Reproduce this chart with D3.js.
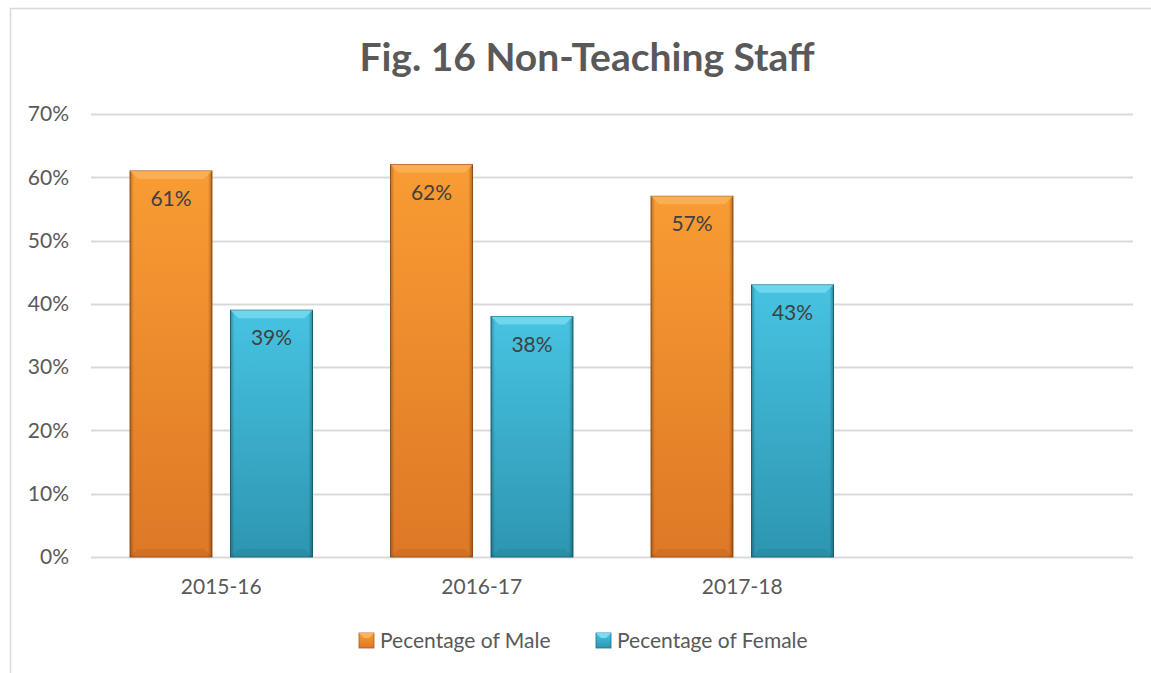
<!DOCTYPE html>
<html>
<head>
<meta charset="utf-8">
<script src="https://cdn.jsdelivr.net/npm/d3@7"></script>
<style>
  html, body { margin: 0; padding: 0; background: #fff; }
  svg { display: block; font-family: Lato, "Open Sans", sans-serif; }
</style>
</head>
<body>
<div id="target"></div>
<script>
// data
const categories = ["2015-16", "2016-17", "2017-18", ""]
const seriesNames = ["Pecentage of Male", "Pecentage of Female"]
const maleValues = [0.61, 0.62, 0.57, null]
const femaleValues = [0.39, 0.38, 0.43, null]
const yTicks = [0, 0.1, 0.2, 0.3, 0.4, 0.5, 0.6, 0.7]

const width = 1151, height = 673
const margin = { top: 114, right: 18, bottom: 116, left: 91 }
const fontSize = 21

const svg = d3.select("#target").append("svg")
    .attr("width", width)
    .attr("height", height)

const defs = svg.append("defs")

const palette = [
    { top: "#F99C33", bottom: "#DE7826", edge: "#A85A1C", bevel: "#FBB45E" },
    { top: "#47C3E2", bottom: "#2D96B1", edge: "#1E6F85", bevel: "#7BDDF3" }
]

palette.forEach((p, i) => {
    const g = defs.append("linearGradient")
        .attr("id", "fill" + i)
        .attr("x1", 0).attr("y1", 0).attr("x2", 0).attr("y2", 1)
    g.append("stop").attr("offset", "0%").attr("stop-color", p.top)
    g.append("stop").attr("offset", "100%").attr("stop-color", p.bottom)
})

// side shade for bevel look
const side = defs.append("linearGradient")
    .attr("id", "side")
    .attr("x1", 0).attr("y1", 0).attr("x2", 1).attr("y2", 0)
side.append("stop").attr("offset", "0%").attr("stop-color", "#000").attr("stop-opacity", 0.25)
side.append("stop").attr("offset", "5%").attr("stop-color", "#000").attr("stop-opacity", 0)
side.append("stop").attr("offset", "95%").attr("stop-color", "#000").attr("stop-opacity", 0)
side.append("stop").attr("offset", "100%").attr("stop-color", "#000").attr("stop-opacity", 0.3)

// chart frame
svg.append("rect")
    .attr("x", 10.5).attr("y", 8.5)
    .attr("width", width + 20).attr("height", height + 20)
    .attr("fill", "#fff")
    .attr("stroke", "#d9d9d9")
    .attr("stroke-width", 1.5)

// title
svg.append("text")
    .attr("x", 587)
    .attr("y", 71)
    .attr("text-anchor", "middle")
    .attr("font-size", 39)
    .attr("font-weight", "bold")
    .attr("fill", "#595959")
    .text("Fig. 16 Non-Teaching Staff")

const x0 = d3.scaleBand()
    .domain(categories)
    .range([margin.left, width - margin.right])
    .padding(0)

const x1 = d3.scaleBand()
    .domain(seriesNames)
    .range([0, x0.bandwidth()])
    .paddingInner(0.184)
    .paddingOuter(0.388)

const y = d3.scaleLinear()
    .domain([0, 0.7])
    .range([height - margin.bottom, margin.top])

// gridlines
svg.append("g")
    .selectAll("line")
    .data(yTicks)
    .join("line")
    .attr("x1", margin.left)
    .attr("x2", width - margin.right)
    .attr("y1", d => Math.round(y(d)) + 0.5)
    .attr("y2", d => Math.round(y(d)) + 0.5)
    .attr("stroke", "#d9d9d9")
    .attr("stroke-width", 2)

// y axis labels
const yAxis = svg.append("g")
    .attr("transform", `translate(${margin.left},0)`)
    .call(d3.axisLeft(y).tickValues(yTicks).tickFormat(d3.format(".0%")).tickSize(0).tickPadding(22))
yAxis.select(".domain").remove()
yAxis.selectAll("text")
    .attr("font-size", fontSize)
    .attr("fill", "#595959")
    .attr("font-family", "Lato, sans-serif")

// x axis labels
const xAxis = svg.append("g")
    .attr("transform", `translate(0,${height - margin.bottom})`)
    .call(d3.axisBottom(x0).tickSize(0).tickPadding(22))
xAxis.select(".domain").remove()
xAxis.selectAll("text")
    .attr("font-size", fontSize)
    .attr("fill", "#595959")
    .attr("font-family", "Lato, sans-serif")

// bars
const barData = []
categories.forEach((c, i) => {
    [maleValues[i], femaleValues[i]].forEach((v, s) => {
        if (v != null) barData.push({ cat: c, series: seriesNames[s], s, value: v })
    })
})

const bars = svg.append("g")
    .selectAll("g")
    .data(barData)
    .join("g")
    .attr("transform", d => `translate(${x0(d.cat) + x1(d.series)},${y(d.value)})`)

const bw = x1.bandwidth()
const bevel = 8

bars.append("rect")
    .attr("width", bw)
    .attr("height", d => y(0) - y(d.value))
    .attr("fill", d => `url(#fill${d.s})`)
    .attr("stroke", d => palette[d.s].edge)
    .attr("stroke-width", 1)

bars.append("rect")
    .attr("width", bw)
    .attr("height", d => y(0) - y(d.value))
    .attr("fill", "url(#side)")

// top bevel
bars.append("path")
    .attr("d", `M0,0 L${bw},0 L${bw - bevel},${bevel} L${bevel},${bevel} Z`)
    .attr("fill", d => palette[d.s].bevel)
    .attr("opacity", 0.75)

// bottom bevel shade
bars.append("path")
    .attr("d", d => {
        const h = y(0) - y(d.value)
        return `M0,${h} L${bw},${h} L${bw - bevel},${h - bevel} L${bevel},${h - bevel} Z`
    })
    .attr("fill", "#000")
    .attr("opacity", 0.06)

// value labels
bars.append("text")
    .attr("x", bw / 2)
    .attr("y", 35)
    .attr("text-anchor", "middle")
    .attr("font-size", fontSize)
    .attr("fill", "#404040")
    .text(d => d3.format(".0%")(d.value))

// legend
const legendX = [359, 596]
const legend = svg.append("g")
    .selectAll("g")
    .data(seriesNames)
    .join("g")
    .attr("transform", (d, i) => `translate(${legendX[i]},633)`)

legend.append("rect")
    .attr("width", 15).attr("height", 15)
    .attr("fill", (d, i) => `url(#fill${i})`)
    .attr("stroke", (d, i) => palette[i].edge)
    .attr("stroke-width", 0.8)
legend.append("path")
    .attr("d", "M0,0 L15,0 L10,5 L5,5 Z")
    .attr("fill", (d, i) => palette[i].bevel)

legend.append("text")
    .attr("x", 21)
    .attr("y", 15)
    .attr("font-size", fontSize)
    .attr("fill", "#595959")
    .text(d => d)
</script>
</body>
</html>
